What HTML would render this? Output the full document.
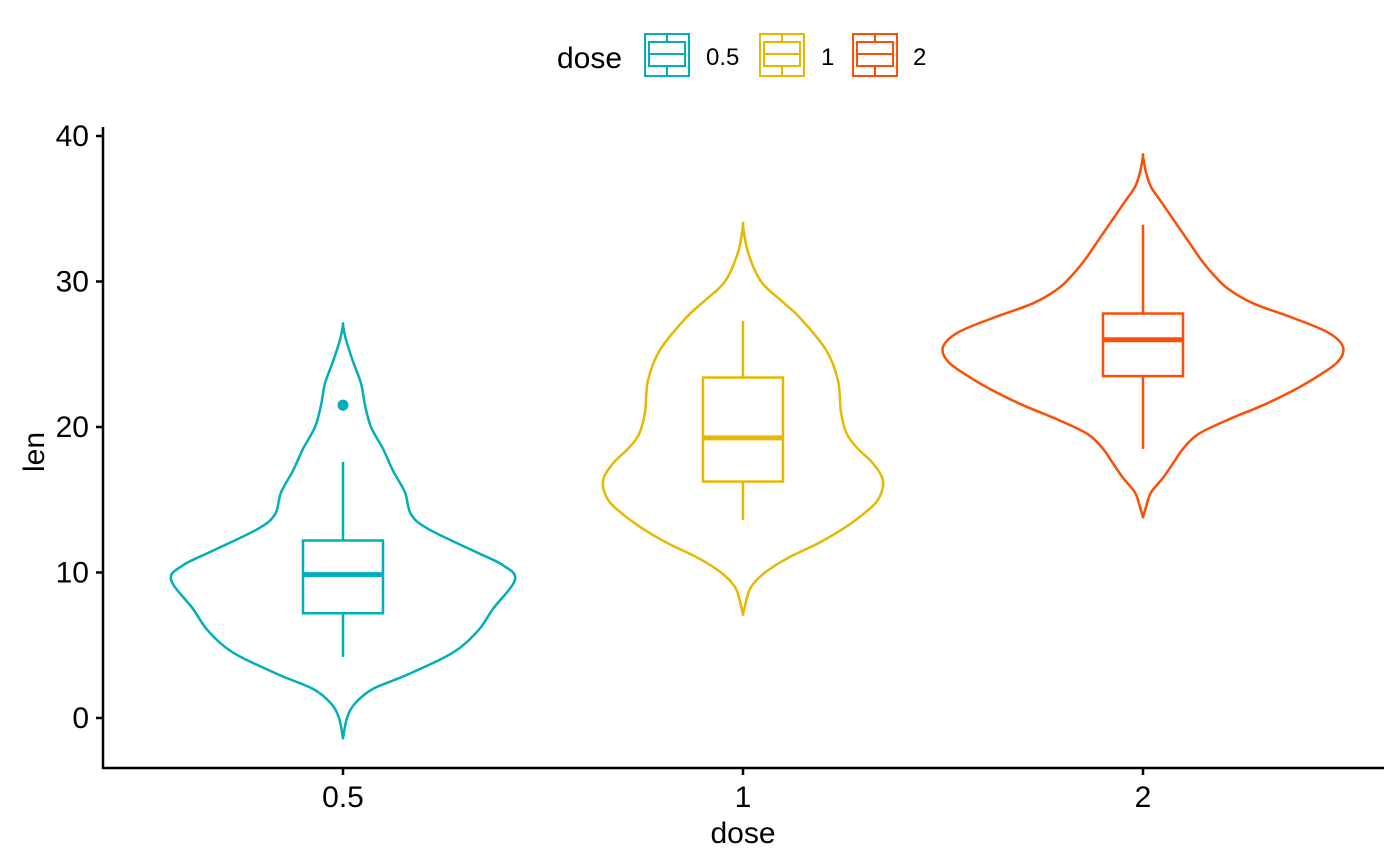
<!DOCTYPE html>
<html><head><meta charset="utf-8"><style>
html,body{margin:0;padding:0;background:#fff;}
svg{display:block;font-family:"Liberation Sans",Arial,sans-serif;}
</style></head><body>
<svg id="chart" width="1400" height="866" viewBox="0 0 1400 866" xmlns="http://www.w3.org/2000/svg">
<g id="legend">
<text x="557" y="68" font-size="30">dose</text>
</g>
<g id="plot"></g>
<g id="axes"></g>
<text x="743" y="843" font-size="30" text-anchor="middle">dose</text>
<text transform="translate(44,452) rotate(-90)" font-size="30" text-anchor="middle">len</text>
</svg>
<script>
const categories = ["0.5","1","2"];
const colors = ["#00AFBB","#E7B800","#FC4E07"];
const yTicks = [0,10,20,30,40];
const violinY0 = [-1.4,0,1,2,3,4.5,6,7.5,9.5,10.5,11.5,13,14,15.5,17,18.5,20,21.5,23,24.5,26,27];
const violinW0 = [0,4,12,30,65,110,135,150,172,160,130,85,68,62,50,40,28,22,18,10,3,0];
const violinY1 = [7.1,8,9,10,11,12,13,14,15,16.3,17.5,18.5,19.5,21,23.2,25.3,27.5,28.7,30,32,33.8];
const violinW1 = [0,3,8,22,45,75,100,120,135,140,130,115,104,98,95,83,57,38,18,5,0];
const violinY2 = [13.8,14.5,15.5,16.5,17.5,18.5,19.5,20.5,21.5,22.5,23.5,24.5,25.5,26.5,27.5,28.5,29.5,30.5,31.5,32.5,33.5,34.5,35.5,36.5,37.5,38.6];
const violinW2 = [0,3,8,20,30,40,55,85,120,150,175,195,200,185,150,110,85,70,58,48,38,28,18,8,3,0];
const q1 = [7.2,16.25,23.5];
const medians = [9.85,19.25,26.0];
const q3 = [12.2,23.4,27.8];
const whiskLo = [4.2,13.6,18.5];
const whiskHi = [17.6,27.3,33.9];
const outliers = [[21.5],[],[]];

const NS="http://www.w3.org/2000/svg";
const yS = v => 718 - v*(718-136)/40;
const xPos = {"0.5":343,"1":743,"2":1143};
const xS = c => xPos[c];
function mk(tag, attrs, parent){const e=document.createElementNS(NS,tag);for(const k in attrs)e.setAttribute(k,attrs[k]);parent.appendChild(e);return e;}
const plot=document.getElementById('plot'), axes=document.getElementById('axes'), legend=document.getElementById('legend');
const vys=[violinY0,violinY1,violinY2], vws=[violinW0,violinW1,violinW2];
const LW=2.5;
categories.forEach((c,i)=>{
  const cx=xS(c), col=colors[i], ys=vys[i], ws=vws[i];
  const R=ys.map((y,j)=>[cx+ws[j],yS(y)]), L=ys.map((y,j)=>[cx-ws[j],yS(y)]).reverse();
  const pts=R.concat(L);
  let d="M"+pts[0][0]+","+pts[0][1];
  for(let k=0;k<pts.length-1;k++){const p0=pts[Math.max(k-1,0)],p1=pts[k],p2=pts[k+1],p3=pts[Math.min(k+2,pts.length-1)];
    d+=" C"+(p1[0]+(p2[0]-p0[0])/6)+","+(p1[1]+(p2[1]-p0[1])/6)+" "+(p2[0]-(p3[0]-p1[0])/6)+","+(p2[1]-(p3[1]-p1[1])/6)+" "+p2[0]+","+p2[1];}
  d+="Z";
  const v=mk('path',{d:d,fill:'none',stroke:col,'stroke-width':LW,'stroke-linejoin':'round'},plot);
  
  
  const g=mk('g',{},plot);
  
  
  mk('line',{x1:cx,x2:cx,y1:yS(q3[i]),y2:yS(whiskHi[i]),stroke:col,'stroke-width':LW},g);
  mk('line',{x1:cx,x2:cx,y1:yS(q1[i]),y2:yS(whiskLo[i]),stroke:col,'stroke-width':LW},g);
  mk('rect',{x:cx-40,y:yS(q3[i]),width:80,height:yS(q1[i])-yS(q3[i]),fill:'#fff',stroke:col,'stroke-width':LW},g);
  mk('line',{x1:cx-40,x2:cx+40,y1:yS(medians[i]),y2:yS(medians[i]),stroke:col,'stroke-width':5},g);
  outliers[i].forEach(o=>{const p=mk('circle',{cx:cx,cy:yS(o),r:5.5,fill:col},g);
    
    });
});
mk('line',{x1:103,x2:103,y1:127,y2:769,stroke:'#000','stroke-width':2.5},axes);
mk('line',{x1:102,x2:1384,y1:768,y2:768,stroke:'#000','stroke-width':2.5},axes);
yTicks.forEach(t=>{const y=yS(t);
  mk('line',{x1:96,x2:103,y1:y,y2:y,stroke:'#000','stroke-width':2.5},axes);
  const tx=mk('text',{x:89,y:y+10,'font-size':30,'text-anchor':'end'},axes);tx.textContent=t;
  
  });
categories.forEach(c=>{const x=xS(c);
  mk('line',{x1:x,x2:x,y1:768,y2:775,stroke:'#000','stroke-width':2.5},axes);
  const tx=mk('text',{x:x,y:807,'font-size':30,'text-anchor':'middle'},axes);tx.textContent=c;
  
  });
const lx=[645,760,853], ltx=[706,821,913];
categories.forEach((c,i)=>{const g=mk('g',{},legend);
  
  
  const x=lx[i], col=colors[i];
  mk('line',{x1:x+22,x2:x+22,y1:34,y2:76,stroke:col,'stroke-width':2},g);
  mk('rect',{x:x+4,y:42,width:36,height:24,fill:'#fff',stroke:col,'stroke-width':2},g);
  mk('line',{x1:x+4,x2:x+40,y1:54,y2:54,stroke:col,'stroke-width':2},g);
  mk('rect',{x:x,y:34,width:44,height:42,fill:'none',stroke:col,'stroke-width':2},g);
  const t=mk('text',{x:ltx[i],y:65,'font-size':24},g);t.textContent=c;});
</script>
</body></html>
